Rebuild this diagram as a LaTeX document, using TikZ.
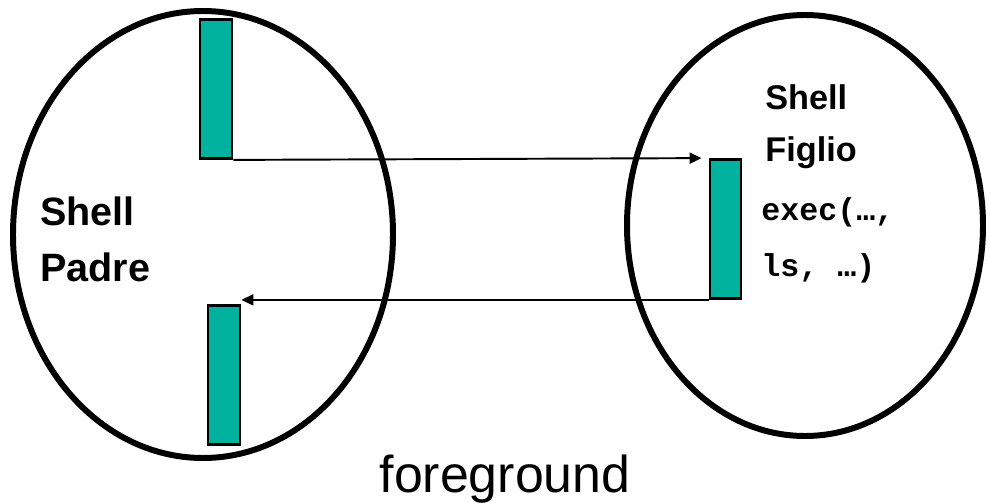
\documentclass[tikz,border=0pt]{standalone}
\usepackage{fontspec}
\setmainfont{Liberation Sans}
\setmonofont{Liberation Mono}
\usetikzlibrary{arrows.meta,shapes.geometric}

\definecolor{pipeteal}{RGB}{0,178,158}

\begin{document}
\begin{tikzpicture}[>={Triangle[length=0.24cm,width=0.22cm]},
    shellbody/.style={ellipse, draw, line width=3.4pt, inner sep=0pt},
    fdbar/.style={rectangle, draw, fill=pipeteal, line width=1.6pt,
        inner sep=0pt, minimum width=0.64cm, minimum height=2.78cm},
    flow/.style={->, line width=1.1pt}]

% Picture frame, same proportions as the slide
\useasboundingbox (0,0) rectangle (19.8,10.04);

% The two shells
\node[shellbody, minimum width=7.6cm, minimum height=8.94cm]
    (padre) at (4.06,5.35) {};
\node[shellbody, minimum width=7.12cm, minimum height=8.42cm]
    (figlio) at (16.1,5.53) {};

% Descriptor bars
\node[fdbar] (top) at (4.32,8.26) {};
\node[fdbar] (bot) at (4.48,2.54) {};
\node[fdbar, minimum width=0.62cm] (child) at (14.51,5.46) {};

% Labels (base = baseline of the last line)
\node[anchor=base west, align=left, font=\bfseries\fontsize{22.5}{32}\selectfont,
    inner sep=0pt] (padrelbl) at (0.8,4.4) {Shell\\Padre};
\node[anchor=base west, align=left, font=\bfseries\fontsize{19.5}{30}\selectfont,
    inner sep=0pt] (figliolbl) at (15.3,6.8) {Shell\\Figlio};
\node[anchor=base west, align=left, font=\ttfamily\bfseries\fontsize{18}{32}\selectfont,
    inner sep=0pt] (execlbl) at (15.22,4.5) {exec(…,\\ls, …)};

% Caption
\node[anchor=base, font=\fontsize{29.5}{34}\selectfont, inner sep=0pt]
    (caption) at (10.1,0.2) {foreground};

% Handing the terminal over and back
\draw[flow, shorten >=0.14cm] (top.south east) -- (child.north west);
\draw[flow] (child.south west) -- (child.south west -| bot.north east);

\end{tikzpicture}
\end{document}
